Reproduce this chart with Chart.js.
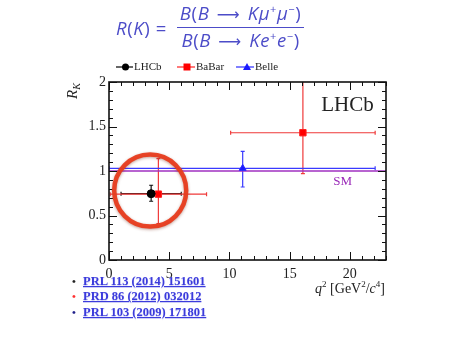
<!DOCTYPE html>
<html>
<head>
<meta charset="utf-8">
<script src="https://cdn.jsdelivr.net/npm/chart.js@4"></script>
<style>
  body { margin: 0; background: #fff; }
  #wrap { position: relative; width: 456px; height: 341px; overflow: hidden; }
  #rkChart { position: absolute; left: 0; top: 0; }
  .formula { position: absolute; left: 116px; top: 1px; color: #4c4cc8; font-family: "Open Sans", "Noto Sans", sans-serif; font-size: 18.5px; letter-spacing: 0.6px; display: flex; align-items: center; }
  .formula i { font-style: italic; }
  .formula .arr { font-family: "DejaVu Sans", sans-serif; font-size: 16px; margin: 0 2px; }
  .frac { display: inline-flex; flex-direction: column; align-items: center; margin-left: 10px; }
  .frac span.row { line-height: 23px; }
  .frac .num { border-bottom: 1.3px solid #4c4cc8; padding: 0 3px 1px; }
  .formula sup { font-size: 11px; vertical-align: 7px; line-height: 0; }
  .ytitle { position: absolute; left: 64px; top: 99px; transform: rotate(-90deg); transform-origin: left top; font-family: "Liberation Serif", serif; font-size: 15px; color: #222; white-space: nowrap; }
  .ytitle sub { font-size: 10px; vertical-align: -3px; }
  .xtitle { position: absolute; right: 71px; top: 279px; font-family: "Liberation Serif", serif; font-size: 14px; color: #222; white-space: nowrap; }
  .xtitle sup { font-size: 9px; vertical-align: 6px; }
  .refs { position: absolute; left: 72px; top: 274px; font-family: "Liberation Serif", serif; font-size: 12.5px; font-weight: bold; line-height: 15.3px; }
  .refs div { white-space: nowrap; }
  .refs b { display: inline-block; width: 11px; font-size: 11px; }
  .refs a { color: #3b3bdc; text-decoration: underline; text-shadow: 0 1px 1px rgba(60,60,220,0.25); }
</style>
</head>
<body>
<div id="wrap">
  <canvas id="rkChart" width="456" height="341"></canvas>
  <div class="formula">
    <span><i>R</i>(<i>K</i>) =</span>
    <span class="frac">
      <span class="row num"><i>B</i>(<i>B</i> <span class="arr">⟶</span> <i>Kμ</i><sup>+</sup><i>μ</i><sup>−</sup>)</span>
      <span class="row den"><i>B</i>(<i>B</i> <span class="arr">⟶</span> <i>Ke</i><sup>+</sup><i>e</i><sup>−</sup>)</span>
    </span>
  </div>
  <div class="ytitle"><i>R</i><sub><i>K</i></sub></div>
  <div class="xtitle"><i>q</i><sup>2</sup> [GeV<sup>2</sup>/<i>c</i><sup>4</sup>]</div>
  <div class="refs">
    <div><b style="color:#222">•</b><a>PRL 113 (2014) 151601</a></div>
    <div><b style="color:#ff3030">•</b><a>PRD 86 (2012) 032012</a></div>
    <div><b style="color:#20208a">•</b><a>PRL 103 (2009) 171801</a></div>
  </div>
</div>
<script>
// -----------------------------
// Data
// -----------------------------
const experiments = ["LHCb", "BaBar", "Belle"];

const lhcbQ2 = [3.5];
const lhcbQ2Lo = [1.0];
const lhcbQ2Hi = [6.0];
const lhcbRK = [0.745];
const lhcbErrUp = [0.095];
const lhcbErrDn = [0.085];

const babarQ2 = [4.1, 16.1];
const babarQ2Lo = [0.1, 10.1];
const babarQ2Hi = [8.1, 22.1];
const babarRK = [0.74, 1.43];
const babarErrUp = [0.40, 0.65];
const babarErrDn = [0.33, 0.46];

const belleQ2 = [11.1];
const belleQ2Lo = [0.0];
const belleQ2Hi = [22.1];
const belleRK = [1.03];
const belleErrUp = [0.19];
const belleErrDn = [0.21];

const smValue = 1.0;
const q2Range = [0, 23];
const rkRange = [0, 2];
const xTicks = [0, 5, 10, 15, 20];
const yTicks = [0, 0.5, 1, 1.5, 2];

function points(q2, lo, hi, rk, up, dn) {
  return q2.map((x, i) => ({
    x: x, y: rk[i],
    xMin: lo[i], xMax: hi[i],
    yMin: rk[i] - dn[i], yMax: rk[i] + up[i]
  }));
}

const serif = "'Liberation Serif', 'Times New Roman', serif";

// -----------------------------
// Error bars, frame, ticks, legend
// -----------------------------
const errorBars = {
  id: "errorBars",
  beforeDatasetsDraw(chart) {
    const ctx = chart.ctx, xs = chart.scales.x, ys = chart.scales.y, a = chart.chartArea;
    ctx.save();
    ctx.beginPath();
    ctx.rect(a.left, a.top, a.right - a.left, a.bottom - a.top);
    ctx.clip();
    chart.data.datasets.forEach(ds => {
      if (!ds.errorColor) return;
      ctx.strokeStyle = ds.errorColor;
      ctx.lineWidth = 1.2;
      ds.data.forEach(p => {
        const px = xs.getPixelForValue(p.x), py = ys.getPixelForValue(p.y);
        const x0 = xs.getPixelForValue(p.xMin), x1 = xs.getPixelForValue(p.xMax);
        const y0 = ys.getPixelForValue(p.yMin), y1 = ys.getPixelForValue(p.yMax);
        ctx.beginPath();
        ctx.moveTo(x0, py); ctx.lineTo(x1, py);
        ctx.moveTo(px, y0); ctx.lineTo(px, y1);
        // small end caps
        ctx.moveTo(px - 2, y0); ctx.lineTo(px + 2, y0);
        ctx.moveTo(px - 2, y1); ctx.lineTo(px + 2, y1);
        ctx.moveTo(x0, py - 2); ctx.lineTo(x0, py + 2);
        ctx.moveTo(x1, py - 2); ctx.lineTo(x1, py + 2);
        ctx.stroke();
      });
    });
    ctx.restore();
  }
};

const frameTicks = {
  id: "frameTicks",
  afterDraw(chart) {
    const ctx = chart.ctx, xs = chart.scales.x, ys = chart.scales.y, a = chart.chartArea;
    ctx.save();
    ctx.strokeStyle = "#111";
    ctx.lineWidth = 1;
    ctx.beginPath();
    for (let v = q2Range[0]; v <= q2Range[1]; v += 1) {
      const x = Math.round(xs.getPixelForValue(v)) + 0.5;
      const len = v % 5 === 0 ? 8 : 4;
      ctx.moveTo(x, a.bottom); ctx.lineTo(x, a.bottom - len);
      ctx.moveTo(x, a.top); ctx.lineTo(x, a.top + len);
    }
    for (let k = 0; k <= 20; k++) {
      const y = Math.round(ys.getPixelForValue(k / 10)) + 0.5;
      const len = k % 5 === 0 ? 8 : 4;
      ctx.moveTo(a.left, y); ctx.lineTo(a.left + len, y);
      ctx.moveTo(a.right, y); ctx.lineTo(a.right - len, y);
    }
    ctx.stroke();
    ctx.lineWidth = 1.6;
    ctx.strokeRect(a.left, a.top, a.right - a.left, a.bottom - a.top);

    // experiment label and SM label
    ctx.fillStyle = "#222";
    ctx.font = "21px " + serif;
    ctx.textAlign = "center";
    ctx.textBaseline = "middle";
    ctx.fillText("LHCb", xs.getPixelForValue(19.8), ys.getPixelForValue(1.74));
    ctx.fillStyle = "#9a2ab8";
    ctx.font = "13px " + serif;
    ctx.fillText("SM", xs.getPixelForValue(19.4), ys.getPixelForValue(0.885));

    // highlight ring around the low-q2 points
    ctx.strokeStyle = "rgba(232,60,30,0.95)";
    ctx.lineWidth = 4.5;
    ctx.shadowColor = "rgba(120,40,20,0.45)";
    ctx.shadowBlur = 3;
    ctx.shadowOffsetY = 1;
    ctx.beginPath();
    ctx.arc(xs.getPixelForValue(3.42), ys.getPixelForValue(0.78), 36, 0, Math.PI * 2);
    ctx.stroke();
    ctx.restore();

    // legend
    ctx.save();
    ctx.font = "11px " + serif;
    ctx.textBaseline = "middle";
    const ly = 67;
    const items = [[116, 125.5, 134], [177, 187, 196], [236, 247, 255]];
    chart.data.datasets.slice(0, 3).forEach((ds, i) => {
      const [x0, xm, xt] = items[i];
      ctx.strokeStyle = ds.borderColor;
      ctx.fillStyle = ds.backgroundColor;
      ctx.lineWidth = 1.2;
      ctx.beginPath(); ctx.moveTo(x0, ly); ctx.lineTo(xt - 1, ly); ctx.stroke();
      ctx.beginPath();
      if (ds.pointStyle === "circle") ctx.arc(xm, ly, 3.5, 0, Math.PI * 2);
      else if (ds.pointStyle === "rect") ctx.rect(xm - 3.5, ly - 3.5, 7, 7);
      else { ctx.moveTo(xm, ly - 4); ctx.lineTo(xm + 4, ly + 3); ctx.lineTo(xm - 4, ly + 3); ctx.closePath(); }
      ctx.fill();
      ctx.fillStyle = "#222";
      ctx.fillText(ds.label, xt, ly + 0.5);
    });
    ctx.restore();
  }
};

// -----------------------------
// Chart
// -----------------------------
const ctx = document.getElementById("rkChart").getContext("2d");
const rkChart = new Chart(ctx, {
  type: "scatter",
  data: {
    datasets: [
      {
        label: experiments[0],
        data: points(lhcbQ2, lhcbQ2Lo, lhcbQ2Hi, lhcbRK, lhcbErrUp, lhcbErrDn),
        pointStyle: "circle", pointRadius: 4,
        backgroundColor: "#000", borderColor: "#000", errorColor: "#111", order: 1
      },
      {
        label: experiments[1],
        data: points(babarQ2, babarQ2Lo, babarQ2Hi, babarRK, babarErrUp, babarErrDn),
        pointStyle: "rect", pointRadius: 4.5,
        backgroundColor: "#ff0000", borderColor: "#ff2020", errorColor: "#f03a3a", order: 2
      },
      {
        label: experiments[2],
        data: points(belleQ2, belleQ2Lo, belleQ2Hi, belleRK, belleErrUp, belleErrDn),
        pointStyle: "triangle", pointRadius: 4,
        backgroundColor: "#1a1aff", borderColor: "#2a2aff", errorColor: "#3a3aff", order: 3
      },
      {
        label: "SM",
        type: "line",
        data: [{ x: q2Range[0], y: smValue }, { x: q2Range[1], y: smValue }],
        borderColor: "#a030c0", borderWidth: 1.4, pointRadius: 0, order: 4
      }
    ]
  },
  options: {
    responsive: false,
    animation: false,
    devicePixelRatio: 1,
    layout: { padding: { left: 69, right: 70, top: 82, bottom: 63 } },
    plugins: { legend: { display: false }, tooltip: { enabled: false } },
    scales: {
      x: {
        type: "linear", min: q2Range[0], max: q2Range[1],
        afterBuildTicks: s => { s.ticks = xTicks.map(v => ({ value: v })); },
        afterFit: s => { s.height = 18; },
        grid: { display: false, drawTicks: false },
        border: { display: false },
        ticks: { color: "#222", padding: 6, maxRotation: 0, font: { family: serif, size: 14 }, callback: v => String(v) }
      },
      y: {
        type: "linear", min: rkRange[0], max: rkRange[1],
        afterBuildTicks: s => { s.ticks = yTicks.map(v => ({ value: v })); },
        afterFit: s => { s.width = 40; },
        grid: { display: false, drawTicks: false },
        border: { display: false },
        ticks: { color: "#222", padding: 3, font: { family: serif, size: 14 }, callback: v => String(v) }
      }
    }
  },
  plugins: [errorBars, frameTicks]
});
</script>
</body>
</html>
